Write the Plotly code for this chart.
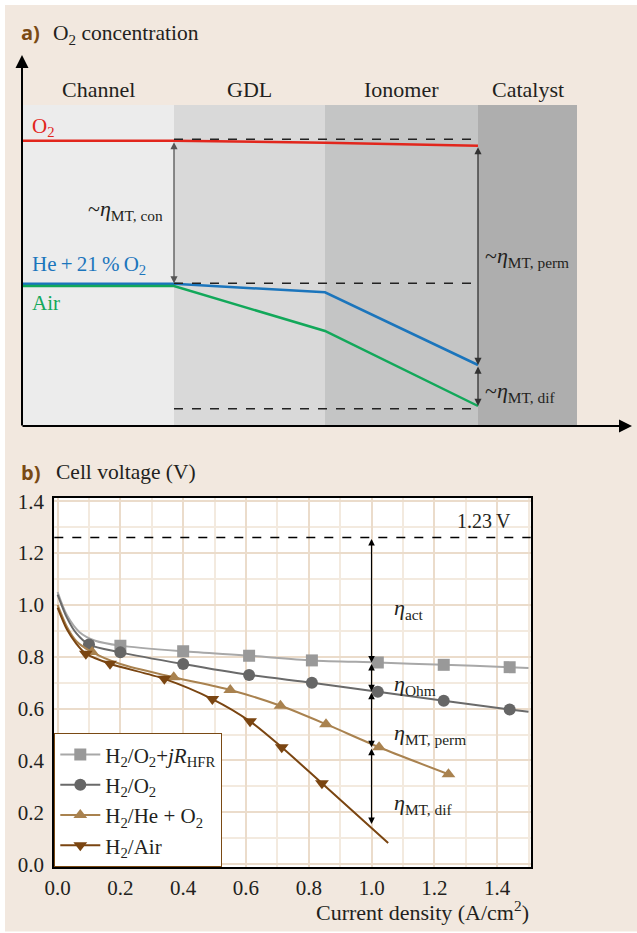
import plotly.graph_objects as go

W, H = 637, 933
SERIF = "Liberation Serif"
SANS = "Open Sans"
BROWN = "#7A4A14"
BEIGE = "#F2E8DF"
INK = "#231F20"
TS = "\u2009"  # thin space

# ---------------- Panel a: schematic O2 concentration profiles ----------------
layer_names = ["Channel", "GDL", "Ionomer", "Catalyst"]
layer_bounds = [0, 152, 303, 456, 555]          # distance (arb. units)
layer_colors = ["#ECECEC", "#D9D9D9", "#C4C5C5", "#AEAEAE"]
layer_top = 321
profile_x = [0, 152, 303, 456]
conc_o2 = [285.3, 285.3, 283.3, 280.3]
conc_he = [142.2, 142.2, 133.7, 61.0]
conc_air = [140.0, 140.0, 95.0, 20.0]
ref_levels = [286.7, 142.7, 17.3]              # dashed reference levels
profile_names = ["O<sub>2</sub>", f"He{TS}+{TS}21{TS}%{TS}O<sub>2</sub>", "Air"]
profile_colors = ["#E2261C", "#1B75BC", "#12A85A"]
profile_label_y = [299, 161, 123]

# ---------------- Panel b: polarization curves ----------------
sq_x = [0.20, 0.40, 0.61, 0.81, 1.02, 1.23, 1.44]
sq_y = [0.843, 0.821, 0.804, 0.786, 0.778, 0.769, 0.760]
sq_fit_x = [0.0, 0.03, 0.07, 0.12, 1.50]
sq_fit_y = [1.050, 0.960, 0.895, 0.862, 0.757]

ci_x = [0.10, 0.20, 0.40, 0.61, 0.81, 1.02, 1.23, 1.44]
ci_y = [0.847, 0.817, 0.772, 0.730, 0.700, 0.665, 0.630, 0.597]
ci_fit_x = [0.0, 0.03, 0.06, 1.50]
ci_fit_y = [1.040, 0.950, 0.890, 0.588]

up_x = [0.11, 0.37, 0.55, 0.71, 0.855, 1.024, 1.245]
up_y = [0.818, 0.721, 0.672, 0.611, 0.540, 0.451, 0.347]
up_fit_x = [0.0, 0.03, 0.06, 0.20]
up_fit_y = [1.000, 0.915, 0.860, 0.772]

dn_x = [0.09, 0.167, 0.34, 0.493, 0.613, 0.714, 0.842]
dn_y = [0.812, 0.773, 0.715, 0.637, 0.551, 0.451, 0.312]
dn_fit_x = [0.0, 0.03, 0.06, 1.053]
dn_fit_y = [0.990, 0.905, 0.850, 0.082]

series_names = ["H<sub>2</sub>/O<sub>2</sub>+<i>jR</i><sub>HFR</sub>",
                "H<sub>2</sub>/O<sub>2</sub>",
                "H<sub>2</sub>/He + O<sub>2</sub>",
                "H<sub>2</sub>/Air"]
series_symbols = ["square", "circle", "triangle-up", "triangle-down"]
series_marker_colors = ["#999999", "#666666", "#A9824F", "#7A4511"]
series_line_colors = ["#A8A8A8", "#6A6A6A", "#A9824F", "#7A4511"]

e_rev = 1.26
eta_x = 1.0
eta_levels = [1.26, 0.778, 0.667, 0.451, 0.155]
eta_labels = ["<i>η</i><sub>act</sub>", "<i>η</i><sub>Ohm</sub>",
              "<i>η</i><sub>MT, perm</sub>", "<i>η</i><sub>MT, dif</sub>"]
eta_label_y = [0.985, 0.693, 0.503, 0.231]

fig = go.Figure()

# panel a traces
for name, ys, col in zip(profile_names, [conc_o2, conc_he, conc_air], profile_colors):
    fig.add_trace(go.Scatter(x=profile_x, y=ys, mode="lines", line=dict(color=col, width=2.5),
                             xaxis="x", yaxis="y", showlegend=False, hoverinfo="skip"))

# panel b traces
meas = [(sq_x, sq_y, sq_fit_x, sq_fit_y), (ci_x, ci_y, ci_fit_x, ci_fit_y),
        (up_x, up_y, up_fit_x, up_fit_y), (dn_x, dn_y, dn_fit_x, dn_fit_y)]
for i, (mx, my, fx, fy) in enumerate(meas):
    pts = sorted(list(zip(mx, my)) + list(zip(fx, fy)))
    fig.add_trace(go.Scatter(
        x=[p[0] for p in pts], y=[p[1] for p in pts], mode="lines", xaxis="x2", yaxis="y2",
        line=dict(color=series_line_colors[i], width=2, shape="spline", smoothing=0.8),
        showlegend=False, legendgroup=str(i)))
    fig.add_trace(go.Scatter(
        x=mx, y=my, mode="markers", xaxis="x2", yaxis="y2", showlegend=False, legendgroup=str(i),
        marker=dict(symbol=series_symbols[i], size=12, color=series_marker_colors[i], line=dict(width=0))))
    # legend entry (line + marker sample)
    fig.add_trace(go.Scatter(
        x=[None], y=[None], mode="lines+markers", name=series_names[i], xaxis="x2", yaxis="y2",
        legendgroup=str(i), line=dict(color=series_line_colors[i], width=2),
        marker=dict(symbol=series_symbols[i], size=12, color=series_marker_colors[i], line=dict(width=0))))

shapes = []
annotations = []

# layers
for i, nm in enumerate(layer_names):
    shapes.append(dict(type="rect", xref="x", yref="y", x0=layer_bounds[i], x1=layer_bounds[i + 1],
                       y0=0, y1=layer_top, fillcolor=layer_colors[i], line=dict(width=0), layer="below"))
    annotations.append(dict(xref="x", yref="y", x=(layer_bounds[i] + layer_bounds[i + 1]) / 2, y=337,
                            text=nm, showarrow=False, font=dict(family=SERIF, size=22, color=INK)))
# dashed reference levels
for lv in ref_levels:
    shapes.append(dict(type="line", xref="x", yref="y", x0=layer_bounds[1], x1=layer_bounds[3],
                       y0=lv, y1=lv, line=dict(color="#222222", width=1.5, dash="dash")))
# profile labels
for nm, col, yy in zip(profile_names, profile_colors, profile_label_y):
    annotations.append(dict(xref="x", yref="y", x=8, y=yy, text=nm, xanchor="left", showarrow=False,
                            font=dict(family=SERIF, size=21, color=col)))


def darrow(xr, yr, x, y0, y1, color, width, size):
    return dict(xref=xr, yref=yr, axref=xr, ayref=yr, x=x, y=y1, ax=x, ay=y0, text="",
                showarrow=True, arrowhead=2, startarrowhead=2, arrowside="end+start",
                arrowsize=size, startarrowsize=size, arrowwidth=width, arrowcolor=color,
                standoff=0, startstandoff=0)


annotations.append(darrow("x", "y", layer_bounds[1], conc_o2[1], ref_levels[1], "#555555", 1.3, 1.1))
annotations.append(darrow("x", "y", layer_bounds[3], conc_o2[3], conc_he[3], "#333333", 1.3, 1.1))
annotations.append(darrow("x", "y", layer_bounds[3], conc_he[3], conc_air[3], "#333333", 1.3, 1.1))
annotations.append(dict(xref="x", yref="y", x=143, y=216, xanchor="right", showarrow=False,
                        text="~<i>η</i><sub>MT, con</sub>", font=dict(family=SERIF, size=22, color=INK)))
annotations.append(dict(xref="x", yref="y", x=461, y=169, xanchor="left", showarrow=False,
                        text="~<i>η</i><sub>MT, perm</sub>", font=dict(family=SERIF, size=22, color=INK)))
annotations.append(dict(xref="x", yref="y", x=461, y=34, xanchor="left", showarrow=False,
                        text="~<i>η</i><sub>MT, dif</sub>", font=dict(family=SERIF, size=22, color=INK)))
# axis arrows panel a
annotations.append(dict(xref="x", yref="y", axref="x", ayref="y", x=0, y=371, ax=0, ay=-1, text="",
                        showarrow=True, arrowhead=2, arrowsize=1.3, arrowwidth=2, arrowcolor="black",
                        standoff=0))
annotations.append(dict(xref="x", yref="y", axref="x", ayref="y", x=610, y=0, ax=-1, ay=0, text="",
                        showarrow=True, arrowhead=2, arrowsize=1.3, arrowwidth=2, arrowcolor="black",
                        standoff=0))
annotations.append(dict(xref="x", yref="y", x=611, y=-18, xanchor="right", showarrow=False,
                        text="Distance", font=dict(family=SERIF, size=22, color=INK)))
# panel titles
annotations.append(dict(xref="paper", yref="paper", x=19 / W, y=1 - 33 / H, xanchor="left", yanchor="middle",
                        showarrow=False, text="<b>a)</b>", font=dict(family=SANS, size=20, color=BROWN)))
annotations.append(dict(xref="paper", yref="paper", x=51 / W, y=1 - 34 / H, xanchor="left", yanchor="middle",
                        showarrow=False, text="O<sub>2</sub> concentration",
                        font=dict(family=SERIF, size=21.5, color=INK)))
annotations.append(dict(xref="paper", yref="paper", x=19 / W, y=1 - 472 / H, xanchor="left", yanchor="middle",
                        showarrow=False, text="<b>b)</b>", font=dict(family=SANS, size=20, color=BROWN)))
annotations.append(dict(xref="paper", yref="paper", x=54 / W, y=1 - 472 / H, xanchor="left", yanchor="middle",
                        showarrow=False, text="Cell voltage (V)", font=dict(family=SERIF, size=21.5, color=INK)))

# panel b extras
shapes.append(dict(type="rect", xref="x2 domain", yref="y2 domain", x0=0, x1=1, y0=0, y1=1,
                   fillcolor="white", line=dict(width=0), layer="below"))
shapes.append(dict(type="line", xref="x2 domain", yref="y2", x0=0, x1=1, y0=e_rev, y1=e_rev,
                   line=dict(color="black", width=1.5, dash="dash")))
annotations.append(dict(xref="x2", yref="y2", x=1.45, y=1.325, xanchor="right", showarrow=False,
                        text=f"1.23{TS}V", font=dict(family=SERIF, size=20, color=INK)))
for i in range(len(eta_levels) - 1):
    annotations.append(darrow("x2", "y2", eta_x, eta_levels[i], eta_levels[i + 1], "black", 1.2, 1.1))
    annotations.append(dict(xref="x2", yref="y2", x=1.065, y=eta_label_y[i], xanchor="left", showarrow=False,
                            text=eta_labels[i], font=dict(family=SERIF, size=22, color=INK)))
annotations.append(dict(xref="paper", yref="paper", x=531 / W, y=1 - 911 / H, xanchor="right", yanchor="middle",
                        showarrow=False, text="Current density (A/cm<sup>2</sup>)",
                        font=dict(family=SERIF, size=22, color=INK)))

# white frame strips of the page
shapes.append(dict(type="rect", xref="paper", yref="paper", x0=0, x1=1, y0=1 - 5 / H, y1=1,
                   fillcolor="white", line=dict(width=0), layer="above"))
shapes.append(dict(type="rect", xref="paper", yref="paper", x0=0, x1=5 / W, y0=0, y1=1,
                   fillcolor="white", line=dict(width=0), layer="above"))
shapes.append(dict(type="rect", xref="paper", yref="paper", x0=0, x1=1, y0=0, y1=1.5 / H,
                   fillcolor="white", line=dict(width=0), layer="above"))

axis_font = dict(family=SERIF, size=21, color=INK)
fig.update_layout(
    width=W, height=H, autosize=False, margin=dict(l=0, r=0, t=0, b=0, pad=0),
    paper_bgcolor=BEIGE, plot_bgcolor=BEIGE,
    font=dict(family=SERIF, size=20, color=INK),
    xaxis=dict(domain=[22 / W, 632 / W], range=[0, 610], visible=False, fixedrange=True, automargin=False),
    yaxis=dict(domain=[1 - 426 / H, 1 - 55 / H], range=[0, 371], visible=False, fixedrange=True, automargin=False),
    xaxis2=dict(domain=[54.3 / W, 530.7 / W], range=[-0.0105, 1.507], anchor="y2", automargin=False,
                tickvals=[0, 0.2, 0.4, 0.6, 0.8, 1.0, 1.2, 1.4], tickformat=".1f",
                showgrid=True, gridcolor="#EBDCCB", gridwidth=2, zeroline=False,
                minor=dict(dtick=0.1, tick0=0, showgrid=True, gridcolor="#F3EADF", gridwidth=2),
                showline=True, linecolor="black", linewidth=2, mirror=True, ticks="",
                tickfont=axis_font, ticklabelstandoff=0),
    yaxis2=dict(domain=[1 - 867.3 / H, 1 - 497.7 / H], range=[-0.012, 1.4136], anchor="x2", automargin=False,
                tickvals=[0, 0.2, 0.4, 0.6, 0.8, 1.0, 1.2, 1.4], tickformat=".1f",
                showgrid=True, gridcolor="#EBDCCB", gridwidth=2, zeroline=False,
                minor=dict(dtick=0.1, tick0=0, showgrid=True, gridcolor="#F3EADF", gridwidth=2),
                showline=True, linecolor="black", linewidth=2, mirror=True, ticks="",
                tickfont=axis_font, ticklabelstandoff=4),
    legend=dict(x=54.3 / W, y=1 - 867.3 / H, xanchor="left", yanchor="bottom", bgcolor="white",
                bordercolor=BROWN, borderwidth=1, font=dict(family=SERIF, size=21, color=INK),
                tracegroupgap=0, itemwidth=40, traceorder="normal"),
    shapes=shapes, annotations=annotations,
)

post = ("document.body.style.margin='0px';document.body.style.padding='0px';"
        "var gd=document.getElementById('{plot_id}');"
        "Plotly.relayout(gd,{width:637,height:933});")
fig.write_html("out.html", config={"responsive": False}, post_script=post)
